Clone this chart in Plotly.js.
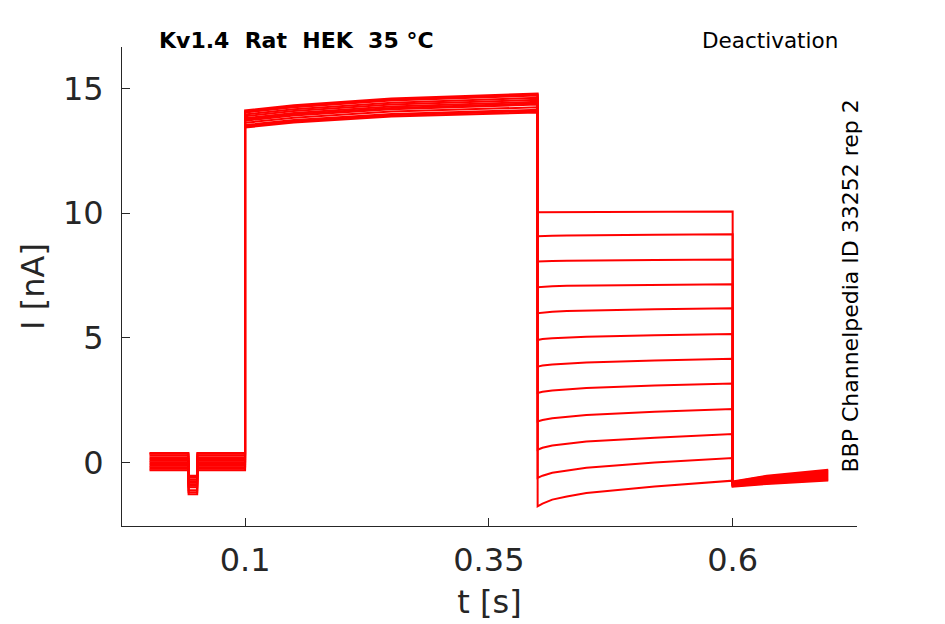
<!DOCTYPE html>
<html>
<head>
<meta charset="utf-8">
<script src="https://cdn.plot.ly/plotly-3.0.1.min.js"></script>
<style>
  body { margin: 0; background: #fff; }
  #chart { width: 945px; height: 624px; }
</style>
</head>
<body>
<div id="chart"></div>
<script>
var t = [0.002, 0.0419, 0.0421, 0.0509, 0.0511, 0.1,
         0.1, 0.15, 0.25, 0.4,
         0.4, 0.405, 0.415, 0.43, 0.45, 0.52, 0.6,
         0.6, 0.635, 0.698];

// holding current before the step (nA)
var baseline = [0.36, -0.12, 0.22, -0.30, 0.08, 0.30, -0.24, 0.15, -0.05, 0.02, -0.18, 0.39];
// short test pulse dip (nA)
var dip = [-0.55, -0.98, -0.68, -1.26, -0.80, -0.60, -1.18, -0.74, -0.92, -0.86, -1.10, -0.52];

// activation step, at t = 0.1, 0.15, 0.25, 0.4
var activation = [
  [14.11, 14.32, 14.59, 14.79],
  [13.62, 13.82, 14.07, 14.24],
  [13.95, 14.16, 14.42, 14.62],
  [13.43, 13.63, 13.87, 14.03],
  [13.80, 14.01, 14.27, 14.46],
  [14.03, 14.24, 14.51, 14.71],
  [13.53, 13.73, 13.97, 14.14],
  [13.88, 14.09, 14.35, 14.54],
  [13.70, 13.91, 14.16, 14.35],
  [13.48, 13.68, 13.92, 14.09],
  [13.75, 13.96, 14.21, 14.40],
  [14.06, 14.28, 14.55, 14.75]
];

// deactivation steps, at t = 0.4, 0.405, 0.415, 0.43, 0.45, 0.52, 0.6
var deactivation = [
  [10.03, 10.03, 10.03, 10.03, 10.04, 10.05, 10.06],
  [9.07, 9.08, 9.09, 9.10, 9.11, 9.13, 9.15],
  [8.06, 8.07, 8.08, 8.09, 8.10, 8.12, 8.14],
  [7.03, 7.05, 7.07, 7.09, 7.10, 7.13, 7.15],
  [5.99, 6.02, 6.05, 6.08, 6.10, 6.15, 6.19],
  [4.92, 4.96, 4.99, 5.02, 5.05, 5.11, 5.16],
  [3.85, 3.89, 3.93, 3.97, 4.01, 4.09, 4.16],
  [2.79, 2.84, 2.89, 2.94, 2.99, 3.09, 3.17],
  [1.65, 1.71, 1.78, 1.84, 1.91, 2.04, 2.15],
  [0.52, 0.60, 0.69, 0.77, 0.85, 1.00, 1.15],
  [-0.61, -0.52, -0.40, -0.31, -0.20, 0.01, 0.19],
  [-1.75, -1.64, -1.48, -1.35, -1.21, -0.95, -0.72]
];

// return to holding, at t = 0.6, 0.635, 0.698
var tail = [
  [-0.75, -0.52, -0.28],
  [-0.77, -0.55, -0.32],
  [-0.79, -0.58, -0.36],
  [-0.81, -0.61, -0.40],
  [-0.83, -0.64, -0.44],
  [-0.85, -0.67, -0.48],
  [-0.87, -0.70, -0.52],
  [-0.89, -0.73, -0.56],
  [-0.90, -0.76, -0.60],
  [-0.92, -0.79, -0.64],
  [-0.94, -0.82, -0.68],
  [-0.96, -0.85, -0.71]
];

var data = [];
for (var i = 0; i < baseline.length; i++) {
  var b = baseline[i], d = dip[i];
  var y = [b, b, d, d, b, b].concat(activation[i], deactivation[i], tail[i]);
  data.push({
    type: 'scatter',
    mode: 'lines',
    x: t,
    y: y,
    line: {color: '#ff0000', width: 2},
    hoverinfo: 'skip'
  });
}

var axisColor = '#262626';
var font = 'DejaVu Sans, sans-serif';
var nb = '\u00a0';

var layout = {
  width: 945,
  height: 624,
  margin: {l: 122, r: 88, t: 47, b: 98},
  paper_bgcolor: '#fff',
  plot_bgcolor: '#fff',
  showlegend: false,
  font: {family: font, color: axisColor},
  xaxis: {
    range: [-0.0262, 0.7275],
    tickvals: [0.1, 0.35, 0.6],
    ticktext: ['0.1', '0.35', '0.6'],
    ticks: 'inside',
    ticklen: 8,
    tickcolor: axisColor,
    showline: true,
    linecolor: axisColor,
    linewidth: 1,
    showgrid: false,
    zeroline: false,
    tickfont: {size: 32, color: axisColor},
    ticklabelstandoff: 6,
    title: {text: 't [s]', font: {size: 32, color: axisColor}, standoff: 12}
  },
  yaxis: {
    range: [-2.536, 16.655],
    tickvals: [0, 5, 10, 15],
    ticks: 'inside',
    ticklen: 8,
    tickcolor: axisColor,
    showline: true,
    linecolor: axisColor,
    linewidth: 1,
    showgrid: false,
    zeroline: false,
    tickfont: {size: 32, color: axisColor},
    ticklabelstandoff: 11,
    title: {text: 'I [nA]', font: {size: 32, color: axisColor}, standoff: 8}
  },
  annotations: [
    {
      text: '<b>Kv1.4' + nb + nb + 'Rat' + nb + nb + 'HEK' + nb + nb + '35 °C</b>',
      xref: 'paper', yref: 'paper', x: 0.048, y: 1.0146,
      xanchor: 'left', yanchor: 'middle', showarrow: false,
      font: {size: 22, color: '#000', family: font}
    },
    {
      text: 'Deactivation',
      xref: 'paper', yref: 'paper', x: 0.977, y: 1.0146,
      xanchor: 'right', yanchor: 'middle', showarrow: false,
      font: {size: 21.5, color: '#000', family: font}
    },
    {
      text: 'BBP Channelpedia ID 33252 rep 2',
      xref: 'paper', yref: 'paper', x: 0.9905, y: 0.5,
      xanchor: 'center', yanchor: 'middle', textangle: -90, showarrow: false,
      font: {size: 22, color: '#000', family: font}
    }
  ]
};

Plotly.newPlot('chart', data, layout, {displayModeBar: false, staticPlot: true});
</script>
</body>
</html>
